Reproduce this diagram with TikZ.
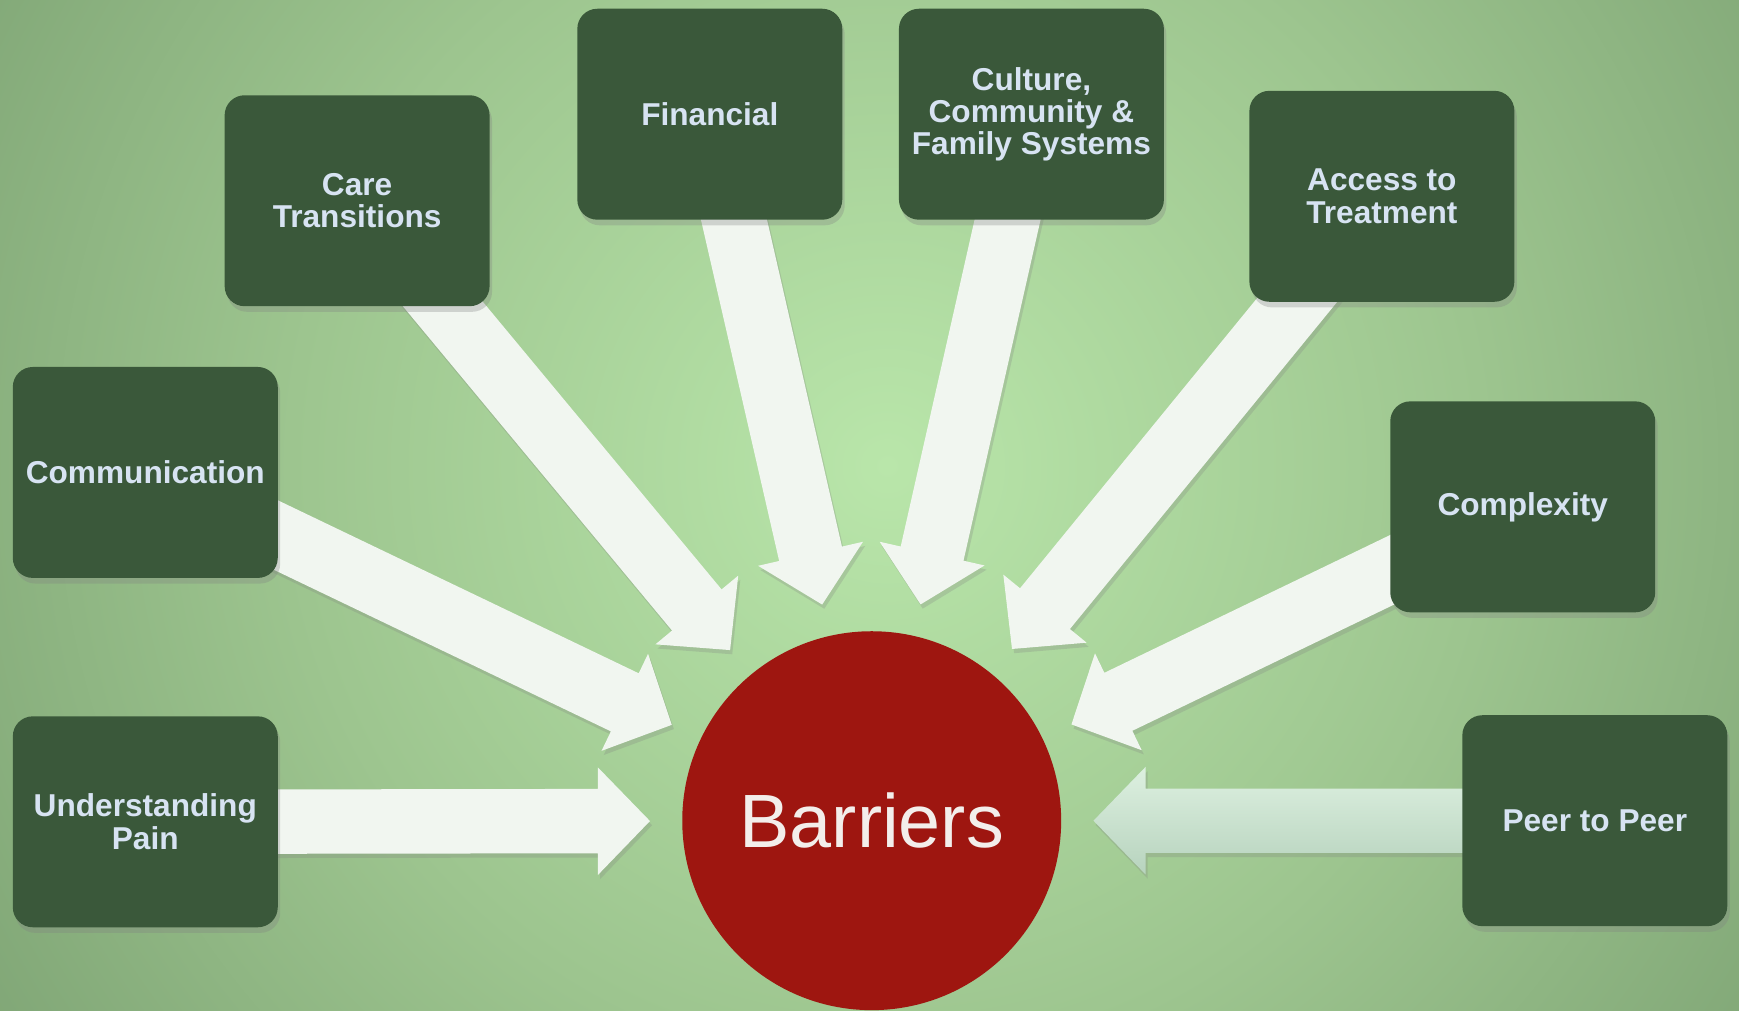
\documentclass[tikz,border=0pt]{standalone}
\usepackage{fontspec}
\setmainfont{Liberation Sans}
\usetikzlibrary{calc}
\usetikzlibrary{shadows}

\definecolor{boxgreen}{HTML}{3A583A}
\definecolor{boxtext}{HTML}{D7E3F2}
\definecolor{pushwhite}{HTML}{F1F6F0}
\definecolor{corered}{HTML}{9E1610}
\definecolor{coretext}{HTML}{F3EEEB}
\definecolor{bgin}{HTML}{B9E6AA}
\definecolor{bgmid}{HTML}{9DC58F}
\definecolor{bgout}{HTML}{80A676}
\definecolor{peertop}{HTML}{DDF0E0}
\definecolor{peerbot}{HTML}{B7D3BE}

\pgfdeclareradialshading{meadow}{\pgfpoint{0bp}{0bp}}{color(0bp)=(bgin); color(14bp)=(bgmid); color(25bp)=(bgout); color(50bp)=(bgout)}
\pgfdeclarelayer{back}
\pgfdeclarelayer{arrows}
\pgfsetlayers{back,arrows,main}

% block arrow from a box towards the circle
\newcommand{\barrier}[2][push]{%
\coordinate (#2 tip) at ($(core.center)!2.218cm!(#2.center)$);
\coordinate (#2 base) at ($(core.center)!2.739cm!(#2.center)$);
\path[#1] ($(#2.center)!0.322cm!90:(#2 tip)$) -- ($(#2 base)!0.322cm!90:(#2 tip)$)
  -- ($(#2 base)!0.538cm!90:(#2 tip)$) -- (#2 tip)
  -- ($(#2 base)!0.538cm!-90:(#2 tip)$) -- ($(#2 base)!0.322cm!-90:(#2 tip)$)
  -- ($(#2.center)!0.322cm!-90:(#2 tip)$) -- cycle;
}

\begin{document}
\begin{tikzpicture}[x=0.01109cm,y=-0.01109cm,
  factor/.style={rectangle,rounded corners=0.2cm,fill=boxgreen,text=boxtext,minimum width=2.65cm,minimum height=2.11cm,inner sep=0pt,align=center,font=\bfseries\fontsize{9}{9.2}\selectfont,drop shadow={shadow xshift=0.7pt,shadow yshift=-1.6pt,opacity=0.3}},
  push/.style={fill=pushwhite,drop shadow={shadow xshift=0.6pt,shadow yshift=-1.2pt,opacity=0.25}},
  peerpush/.style={top color=peertop,bottom color=peerbot,drop shadow={shadow xshift=0.6pt,shadow yshift=-1.2pt,opacity=0.25}}]
\useasboundingbox (0,0) rectangle (1568,911);
\begin{pgfonlayer}{back}
\begin{scope}
\clip (0,0) rectangle (1568,911);
\shade[shading=meadow] (800,420) circle (960);
\end{scope}
\end{pgfonlayer}

\node (core) [circle,fill=corered,minimum size=3.79cm,inner sep=0pt,text=coretext,font=\fontsize{21.5}{21.5}\selectfont] at (786,740) {Barriers};

\node (pain) [factor] at (131,741) {Understanding\\Pain};
\node (comm) [factor] at (131,426) {Communication};
\node (care) [factor] at (322,181) {Care\\Transitions};
\node (money) [factor] at (640,103) {Financial};
\node (culture) [factor] at (930,103) {Culture,\\Community \&\\Family Systems};
\node (access) [factor] at (1246,177) {Access to\\Treatment};
\node (complex) [factor] at (1373,457) {Complexity};
\node (peer) [factor] at (1438,740) {Peer to Peer};

\begin{pgfonlayer}{arrows}
\barrier{pain}
\barrier{comm}
\barrier{care}
\barrier{money}
\barrier{culture}
\barrier{access}
\barrier{complex}
\barrier[peerpush]{peer}
\end{pgfonlayer}
\end{tikzpicture}
\end{document}
